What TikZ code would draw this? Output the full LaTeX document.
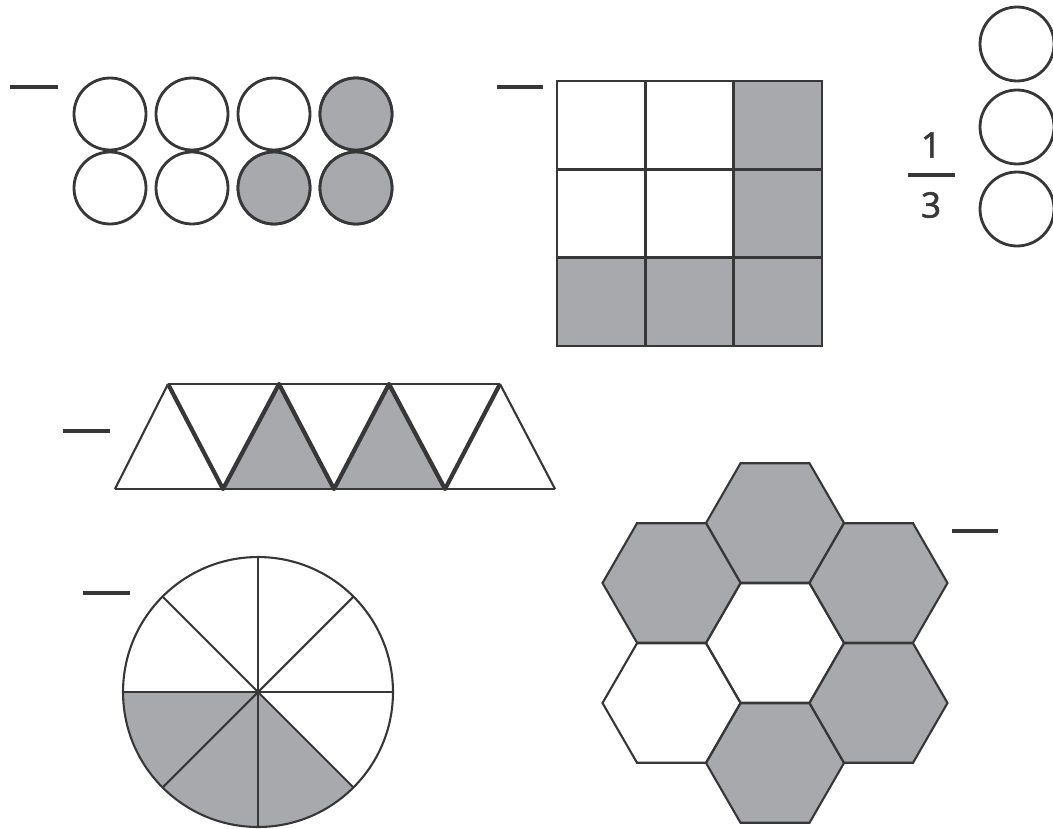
\documentclass[tikz,border=0pt]{standalone}
\usepackage{fontspec}
\setmainfont{Open Sans}
\usetikzlibrary{shapes.geometric,calc}

\definecolor{tint}{RGB}{167,169,172}
\definecolor{ink}{RGB}{55,55,55}

\begin{document}
\begin{tikzpicture}[
  x=0.02cm, y=-0.02cm,
  every node/.style={font=\fontsize{20}{24}\selectfont, text=ink},
  disc/.style={draw=ink, circle, line width=1.6pt, inner sep=0pt, minimum size=1.44cm},
  cell/.style={draw=ink, rectangle, line width=1.4pt, inner sep=0pt, minimum size=1.766cm},
  hexa/.style={draw=ink, regular polygon, regular polygon sides=6, line width=1.2pt, inner sep=0pt, minimum size=2.76cm},
  blank/.style={draw=ink, line width=2pt},
  edge/.style={draw=ink, line width=1.2pt},
  zig/.style={draw=ink, line width=2.4pt, line join=round},
  on/.style={fill=tint}
]
\useasboundingbox (0,0) rectangle (1053,828);

% eight circles, three shaded
\draw[blank] (10,87) -- (58,87);
\foreach \c/\x in {1/110,2/192,3/274,4/356}
  \foreach \r/\y in {1/114,2/188}
    \node[disc] (c\r\c) at (\x,\y) {};
\node[disc, on] at (c14) {};
\node[disc, on] at (c23) {};
\node[disc, on] at (c24) {};

% three by three grid
\draw[blank] (497,87) -- (543,87);
\foreach \c/\x in {1/601.2,2/689.5,3/777.8}
  \foreach \r/\y in {1/125.2,2/213.5,3/301.8}
    \node[cell] (g\r\c) at (\x,\y) {};
\foreach \n in {g13,g23,g31,g32,g33}
  \node[cell, on] at (\n) {};

% one third, three circles
\node (num) at (931,145) {\addfontfeature{FakeBold=1.5}1};
\node (den) at (931,205) {\addfontfeature{FakeBold=1.5}3};
\draw[blank] ($(num.south)!0.5!(den.north)$) +(-23.5,0) -- +(23.5,0);
\node[disc, minimum size=1.48cm] (r1) at (1017,44) {};
\node[disc, minimum size=1.48cm] (r2) at (1017,127) {};
\node[disc, minimum size=1.48cm] (r3) at (1017,209) {};

% strip of triangles
\draw[blank] (63,431) -- (110,431);
\foreach \i/\x in {1/168,2/279,3/389,4/500}
  \coordinate (t\i) at (\x,384);
\foreach \i/\x in {1/115,2/223,3/334,4/445,5/555}
  \coordinate (b\i) at (\x,489);
\fill[tint] (b2) -- (t2) -- (b3) -- cycle;
\fill[tint] (b3) -- (t3) -- (b4) -- cycle;
\draw[edge] (t1) -- (t4);
\draw[edge] (b1) -- (b5);
\draw[edge] (b1) -- (t1);
\draw[edge] (t4) -- (b5);
\draw[zig] (t1) -- (b2) -- (t2) -- (b3) -- (t3) -- (b4) -- (t4);

% circle cut in eighths
\draw[blank] (83,593) -- (130,593);
\coordinate (pc) at (258,692);
\fill[tint] (pc) -- ++(45:135) arc[start angle=45, end angle=180, radius=135] -- cycle;
\foreach \a in {0,45,...,315}
  \draw[edge] (pc) -- ++(\a:135);
\node[draw=ink, circle, line width=1.2pt, inner sep=0pt, minimum size=5.4cm] (pie) at (pc) {};

% ring of hexagons
\draw[blank] (952,531) -- (998,531);
\node[hexa, on] (hT) at (775,523) {};
\node[hexa] (hC) at (775,643) {};
\node[hexa, on] (hB) at (775,763) {};
\node[hexa, on] (hUL) at (671.5,583) {};
\node[hexa, on] (hUR) at (878.5,583) {};
\node[hexa] (hLL) at (671.5,703) {};
\node[hexa, on] (hLR) at (878.5,703) {};
\end{tikzpicture}
\end{document}
